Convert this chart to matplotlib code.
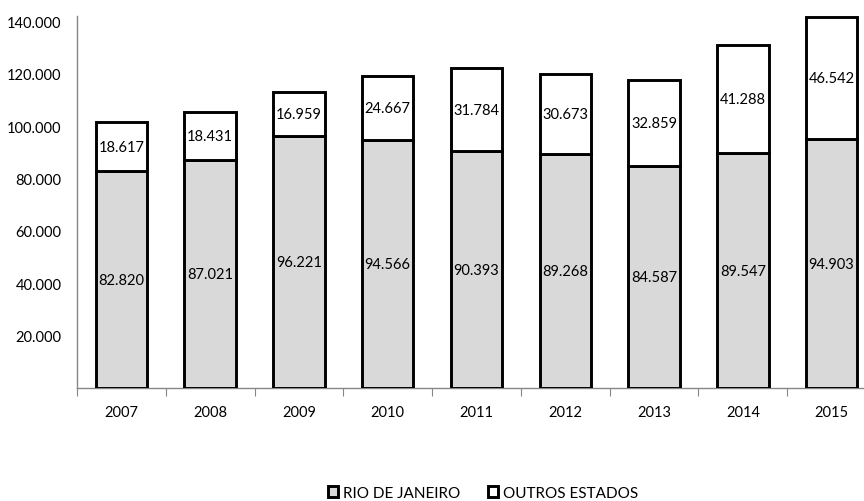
import numpy as np
import matplotlib.pyplot as plt
from matplotlib.ticker import FuncFormatter, FixedLocator

years = ["2007", "2008", "2009", "2010", "2011", "2012", "2013", "2014", "2015"]
rio = [82820, 87021, 96221, 94566, 90393, 89268, 84587, 89547, 94903]
outros = [18617, 18431, 16959, 24667, 31784, 30673, 32859, 41288, 46542]
y_ticks = [20000, 40000, 60000, 80000, 100000, 120000, 140000]

plt.rcParams["font.family"] = ["Lato", "DejaVu Sans"]


def br(v):
    return f"{int(v):,}".replace(",", ".")


fig = plt.figure(figsize=(8.64, 5.02), dpi=100)
ax = fig.add_axes([77 / 864, 113 / 502, 799 / 864, 372 / 502])

x = np.arange(len(years))
w = 0.58
b1 = ax.bar(x, rio, width=w, color="#d9d9d9", edgecolor="black", linewidth=2.1,
            label="RIO DE JANEIRO", zorder=3)
b2 = ax.bar(x, outros, width=w, bottom=rio, color="white", edgecolor="black",
            linewidth=2.1, label="OUTROS ESTADOS", zorder=3)

for i in range(len(years)):
    ax.text(x[i], rio[i] / 2, br(rio[i]), ha="center", va="center", fontsize=10.5, zorder=4)
    ax.text(x[i], rio[i] + outros[i] / 2, br(outros[i]), ha="center", va="center",
            fontsize=10.5, zorder=4)

ax.set_xlim(-0.5, len(years) - 0.5)
ax.set_ylim(0, 142000)

ax.yaxis.set_major_locator(FixedLocator(y_ticks))
ax.yaxis.set_major_formatter(FuncFormatter(lambda v, p: br(v)))
ax.tick_params(axis="y", length=0, pad=11, labelsize=10.5)

ax.xaxis.set_major_locator(FixedLocator(np.arange(-0.5, len(years), 1.0)))
ax.xaxis.set_major_formatter(FuncFormatter(lambda v, p: ""))
ax.xaxis.set_minor_locator(FixedLocator(x))
ax.set_xticklabels(years, minor=True)
ax.tick_params(axis="x", which="major", direction="out", length=6, color="#868686")
ax.tick_params(axis="x", which="minor", length=0, pad=12, labelsize=10.5)

for s in ["top", "right"]:
    ax.spines[s].set_visible(False)
for s in ["left", "bottom"]:
    ax.spines[s].set_color("#868686")
    ax.spines[s].set_linewidth(1.0)

fig.legend(handles=[b1, b2], loc="lower center", bbox_to_anchor=(0.559, -0.025), ncol=2,
           frameon=False, fontsize=11, handlelength=0.7, handleheight=0.7,
           handletextpad=0.3, columnspacing=1.8)

fig.savefig("out.png", dpi=100)
